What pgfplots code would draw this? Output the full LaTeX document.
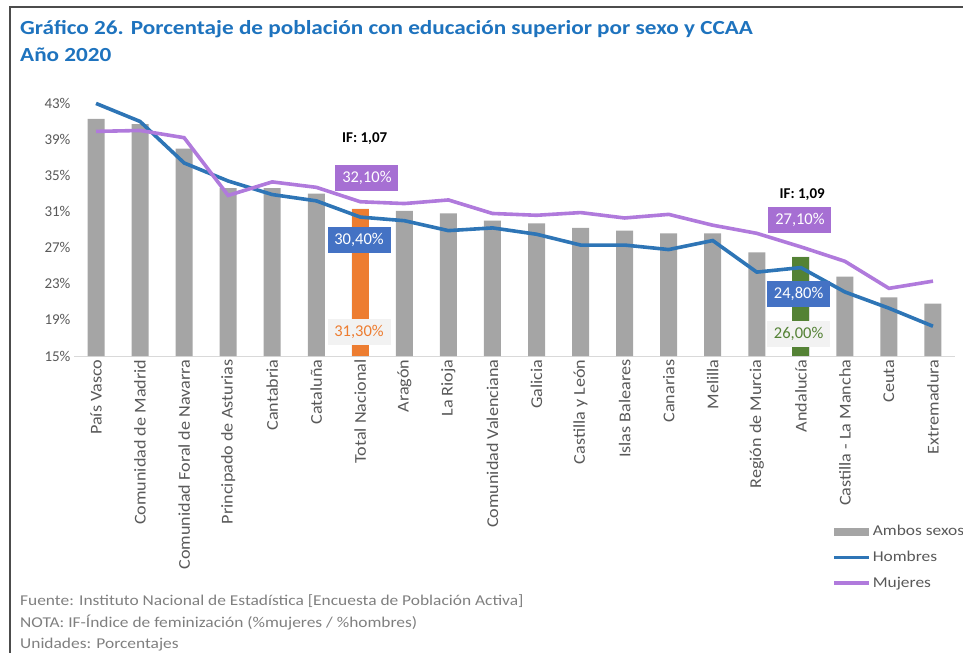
\documentclass[border=0pt]{standalone}
\usepackage{pgfplots}
\pgfplotsset{compat=1.18}
\usepackage{fontspec}
\setmainfont{Carlito}
\newfontfamily\wideA{Carlito}[FakeStretch=1.16]
\newfontfamily\wideB{Carlito}[FakeStretch=1.1]

\definecolor{barGray}{HTML}{A5A5A5}
\definecolor{totOrange}{HTML}{ED7D31}
\definecolor{andGreen}{HTML}{548235}
\definecolor{lineBlue}{HTML}{2E75B6}
\definecolor{linePurple}{HTML}{B07ADC}
\definecolor{boxBlue}{HTML}{4472C4}
\definecolor{boxPurple}{HTML}{A66FD3}
\definecolor{titleBlue}{HTML}{1E73BE}
\definecolor{labGray}{HTML}{595959}
\definecolor{noteGray}{HTML}{7F7F7F}
\definecolor{axisGray}{HTML}{D9D9D9}
\definecolor{lblBox}{HTML}{F2F2F2}

\begin{document}
\begin{tikzpicture}
\useasboundingbox (0pt,0pt) rectangle (963pt,-653pt);
\draw[line width=1.5pt, draw=black!70] (963pt,-7pt) -- (10pt,-7pt) -- (10pt,-653pt);

\node[anchor=base west, inner sep=0pt, text=titleBlue,
  font=\fontsize{20}{22}\wideA\bfseries] at (20pt,-34pt)
  {Gráfico 26. Porcentaje de población con educación superior por sexo y CCAA};
\node[anchor=base west, inner sep=0pt, text=titleBlue,
  font=\fontsize{20}{22}\wideA\bfseries] at (20pt,-61pt) {Año 2020};

\begin{axis}[
  at={(74pt,-356pt)}, anchor=south west,
  scale only axis, width=881pt, height=261.6pt,
  xmin=-0.5, xmax=19.5, ymin=15, ymax=44,
  axis x line=bottom, axis y line=left,
  x axis line style={draw=axisGray, line width=1pt, -},
  y axis line style={draw=none},
  major tick length=0pt,
  xtick={0,...,19},
  xticklabels={País Vasco, Comunidad de Madrid, Comunidad Foral de Navarra,
    Principado de Asturias, Cantabria, Cataluña, Total Nacional, Aragón,
    La Rioja, Comunidad Valenciana, Galicia, Castilla y León, Islas Baleares,
    Canarias, Melilla, Región de Murcia, Andalucía, Castilla - La Mancha,
    Ceuta, Extremadura},
  xticklabel style={rotate=90, anchor=east, text=labGray,
    font=\fontsize{16.5}{18}\wideB},
  ytick={15,19,...,43},
  yticklabels={15\%,19\%,23\%,27\%,31\%,35\%,39\%,43\%},
  yticklabel style={text=labGray, font=\fontsize{15}{17}\selectfont},
  legend style={at={(axis description cs:0.857,-0.632)}, anchor=north west,
    draw=none, fill=none, font=\fontsize{15}{17}\wideA,
    row sep=10pt, text=labGray},
  legend cell align=left,
]

% Ambos sexos
\addplot[ybar, bar width=0.386, bar shift=0pt, fill=barGray, draw=none,
  legend image code/.code={\fill[barGray] (0pt,-4pt) rectangle (35pt,4pt);}]
coordinates {
(0,41.3) (1,40.7) (2,38.0) (3,33.6) (4,33.6) (5,33.0) (6,31.3) (7,31.1)
(8,30.8) (9,30.0) (10,29.7) (11,29.2) (12,28.9) (13,28.6) (14,28.6)
(15,26.5) (16,26.0) (17,23.8) (18,21.5) (19,20.8)
};
\addlegendentry{Ambos sexos}

% highlighted bars
\addplot[ybar, bar width=0.386, bar shift=0pt, fill=totOrange, draw=none, forget plot]
coordinates {(6,31.3)};
\addplot[ybar, bar width=0.386, bar shift=0pt, fill=andGreen, draw=none, forget plot]
coordinates {(16,26.0)};

% Hombres
\addplot[lineBlue, line width=3.6pt, mark=none,
  legend image code/.code={\draw[lineBlue, line width=3.6pt] (0pt,0pt) -- (35pt,0pt);}]
coordinates {
(0,43.0) (1,41.0) (2,36.4) (3,34.4) (4,32.9) (5,32.2) (6,30.4) (7,30.0)
(8,28.9) (9,29.2) (10,28.5) (11,27.3) (12,27.3) (13,26.8) (14,27.8)
(15,24.3) (16,24.8) (17,22.1) (18,20.3) (19,18.3)
};
\addlegendentry{Hombres}

% Mujeres
\addplot[linePurple, line width=3.6pt, mark=none,
  legend image code/.code={\draw[linePurple, line width=3.6pt] (0pt,0pt) -- (35pt,0pt);}]
coordinates {
(0,39.9) (1,40.0) (2,39.2) (3,32.8) (4,34.3) (5,33.7) (6,32.1) (7,31.9)
(8,32.3) (9,30.8) (10,30.6) (11,30.9) (12,30.3) (13,30.7) (14,29.5)
(15,28.6) (16,27.1) (17,25.5) (18,22.5) (19,23.3)
};
\addlegendentry{Mujeres}

% labels
\node[font=\fontsize{15}{16}\selectfont\bfseries] at (axis cs:6.1,39.15) {IF: 1,07};
\node[fill=boxPurple, text=white, minimum width=63pt, minimum height=26pt,
  inner sep=2pt, font=\fontsize{16.5}{18}\selectfont] at (axis cs:6.15,34.7) {32,10\%};
\node[fill=boxBlue, text=white, minimum width=63pt, minimum height=26pt,
  inner sep=2pt, font=\fontsize{16.5}{18}\selectfont] at (axis cs:5.97,27.85) {30,40\%};
\node[fill=lblBox, text=totOrange, minimum width=63pt, minimum height=26pt,
  inner sep=2pt, font=\fontsize{16.5}{18}\selectfont] at (axis cs:5.97,17.65) {31,30\%};

\node[font=\fontsize{15}{16}\selectfont\bfseries] at (axis cs:16.03,32.9) {IF: 1,09};
\node[fill=boxPurple, text=white, minimum width=63pt, minimum height=26pt,
  inner sep=2pt, font=\fontsize{16.5}{18}\selectfont] at (axis cs:15.98,30.1) {27,10\%};
\node[fill=boxBlue, text=white, minimum width=63pt, minimum height=26pt,
  inner sep=2pt, font=\fontsize{16.5}{18}\selectfont] at (axis cs:15.95,21.9) {24,80\%};
\node[fill=lblBox, text=andGreen, minimum width=63pt, minimum height=26pt,
  inner sep=2pt, font=\fontsize{16.5}{18}\selectfont] at (axis cs:15.95,17.45) {26,00\%};
\end{axis}

\node[anchor=base west, inner sep=0pt, text=noteGray,
  font=\fontsize{15}{17}\wideA] at (20pt,-605pt)
  {Fuente: Instituto Nacional de Estadística [Encuesta de Población Activa]};
\node[anchor=base west, inner sep=0pt, text=noteGray,
  font=\fontsize{15}{17}\wideA] at (20pt,-627pt)
  {NOTA: IF-Índice de feminización (\%mujeres / \%hombres)};
\node[anchor=base west, inner sep=0pt, text=noteGray,
  font=\fontsize{15}{17}\wideA] at (20pt,-648pt)
  {Unidades: Porcentajes};
\end{tikzpicture}
\end{document}
